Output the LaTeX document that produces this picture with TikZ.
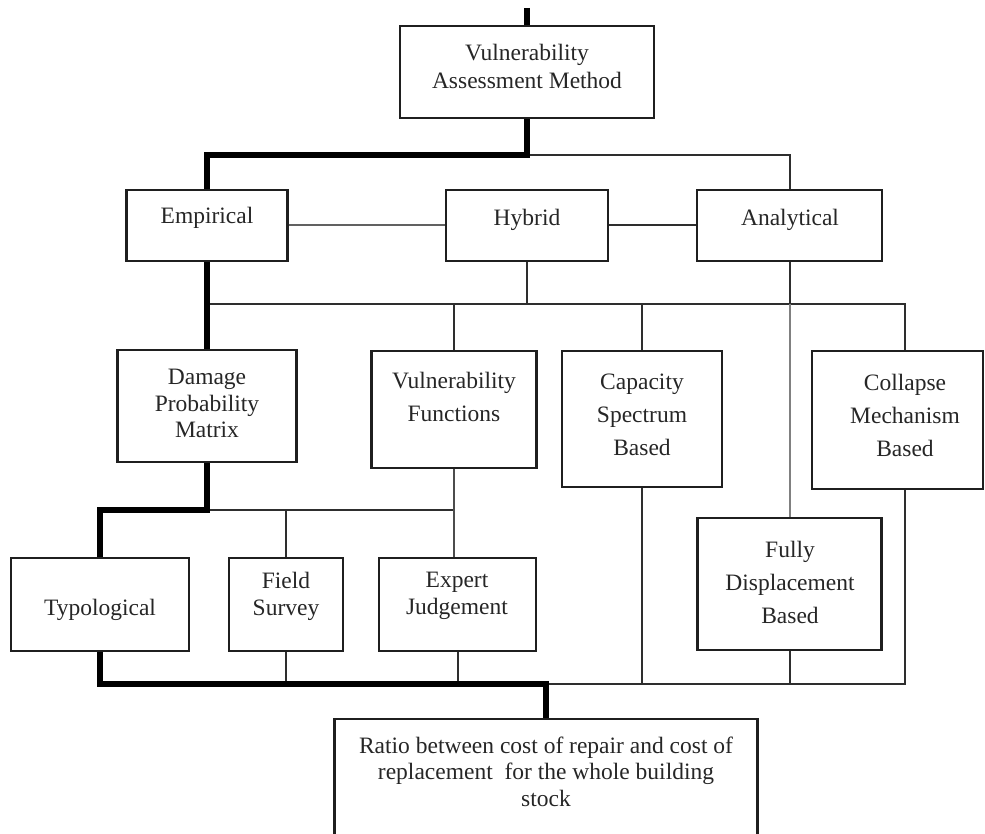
\documentclass[tikz,border=0pt]{standalone}
\usepackage{fontspec}
\setmainfont{Liberation Serif}
\begin{document}
\begin{tikzpicture}[x=1pt,y=-1pt,
 box/.style={draw=black!88, line width=2.3pt, inner sep=0pt},
 lbl/.style={text=black!85, align=center, inner sep=0pt, font=\fontsize{23.5}{28}\selectfont},
 lbls/.style={text=black!85, align=center, inner sep=0pt, font=\fontsize{23.5}{26.5}\selectfont},
 lblw/.style={text=black!85, align=center, inner sep=0pt, font=\fontsize{23.5}{33}\selectfont},
 thinline/.style={line width=2pt, draw=black!82},
 greyline/.style={line width=2pt, draw=black!50},
 thickline/.style={line width=6pt, draw=black}]
\useasboundingbox (0,0) rectangle (985,834);

% boxes
\node[box, minimum width=254, minimum height=92] (vam) at (527,72) {};
\node[box, minimum width=161, minimum height=71] (emp) at (207,225.5) {};
\node[box, minimum width=162, minimum height=71] (hyb) at (527,225.5) {};
\node[box, minimum width=185, minimum height=71] (ana) at (789.5,225.5) {};
\node[box, minimum width=179, minimum height=112] (dpm) at (207,406) {};
\node[box, minimum width=165, minimum height=117] (vf) at (454,409.5) {};
\node[box, minimum width=160, minimum height=136] (csb) at (642,419) {};
\node[box, minimum width=171, minimum height=138] (cmb) at (897.5,420) {};
\node[box, minimum width=178, minimum height=93] (typ) at (100,604.5) {};
\node[box, minimum width=114, minimum height=93] (fs) at (286,604.5) {};
\node[box, minimum width=157, minimum height=93] (exp) at (457.5,604.5) {};
\node[box, minimum width=184, minimum height=132] (fdb) at (789.5,584) {};
\node[box, minimum width=423, minimum height=131] (ratio) at (546,784.5) {};

% texts
\node[lbl] (tvam) at (527,66) {Vulnerability\\Assessment Method};
\node[lbl] (temp) at (207,218) {Empirical};
\node[lbl] (thyb) at (527,220) {Hybrid};
\node[lbl] (tana) at (790,220) {Analytical};
\node[lbls] (tdpm) at (207,403.5) {Damage\\Probability\\Matrix};
\node[lblw] (tvf) at (454,396.5) {Vulnerability\\Functions};
\node[lblw] (tcsb) at (642,415) {Capacity\\Spectrum\\Based};
\node[lblw] (tcmb) at (905,415) {Collapse\\Mechanism\\Based};
\node[lbl] (ttyp) at (100,610) {Typological};
\node[lbls] (tfs) at (286,596.5) {Field\\Survey};
\node[lbls] (texp) at (457,596) {Expert\\Judgement};
\node[lblw] (tfdb) at (790,582.5) {Fully\\Displacement\\Based};
\node[lbls] (tratio) at (546,771.5) {Ratio between cost of repair and cost of\\replacement~ for the whole building\\stock};

% coordinates
\coordinate (top) at (527,8);
\coordinate (j1) at (527,155);
\coordinate (h1) at (207,304);
\coordinate (h2) at (905,304);
\coordinate (l1) at (207,510);
\coordinate (l2) at (454,510);
\coordinate (b1) at (546,684);
\coordinate (b2) at (905,684);

% thin connectors
\draw[thinline] (j1) -| (ana.north);
\draw[greyline, draw=black!62] (emp.east) -- (hyb.west);
\draw[thinline] (hyb.east) -- (ana.west);
\draw[thinline] (h1) -- (h2) -- (h2 |- cmb.north);
\draw[thinline] (hyb.south) -- (hyb.south |- h1);
\draw[thinline] (vf.north) -- (vf.north |- h1);
\draw[thinline] (csb.north) -- (csb.north |- h1);
\draw[thinline] (ana.south) -- (ana.south |- h1);
\draw[greyline] (ana.south |- h1) -- (fdb.north);
\draw[thinline] (l1) -- (l2);
\draw[thinline] (fs.north |- l1) -- (fs.north);
\draw[greyline, draw=black!70] (vf.south) -- (vf.south |- exp.north);
\draw[thinline] (b1) -- (b2) -- (b2 |- cmb.south);
\draw[thinline] (fs.south) -- (fs.south |- b1);
\draw[thinline] (exp.south) -- (exp.south |- b1);
\draw[thinline] (csb.south) -- (csb.south |- b1);
\draw[thinline] (fdb.south) -- (fdb.south |- b1);

% thick path
\draw[thickline] (top) -- (vam.north);
\draw[thickline] (vam.south) -- (j1) -| (emp.north);
\draw[thickline] (emp.south) -- (dpm.north);
\draw[thickline] (dpm.south) -- (l1) -| (typ.north);
\draw[thickline] (typ.south) |- (b1) -- (ratio.north);
\end{tikzpicture}
\end{document}
